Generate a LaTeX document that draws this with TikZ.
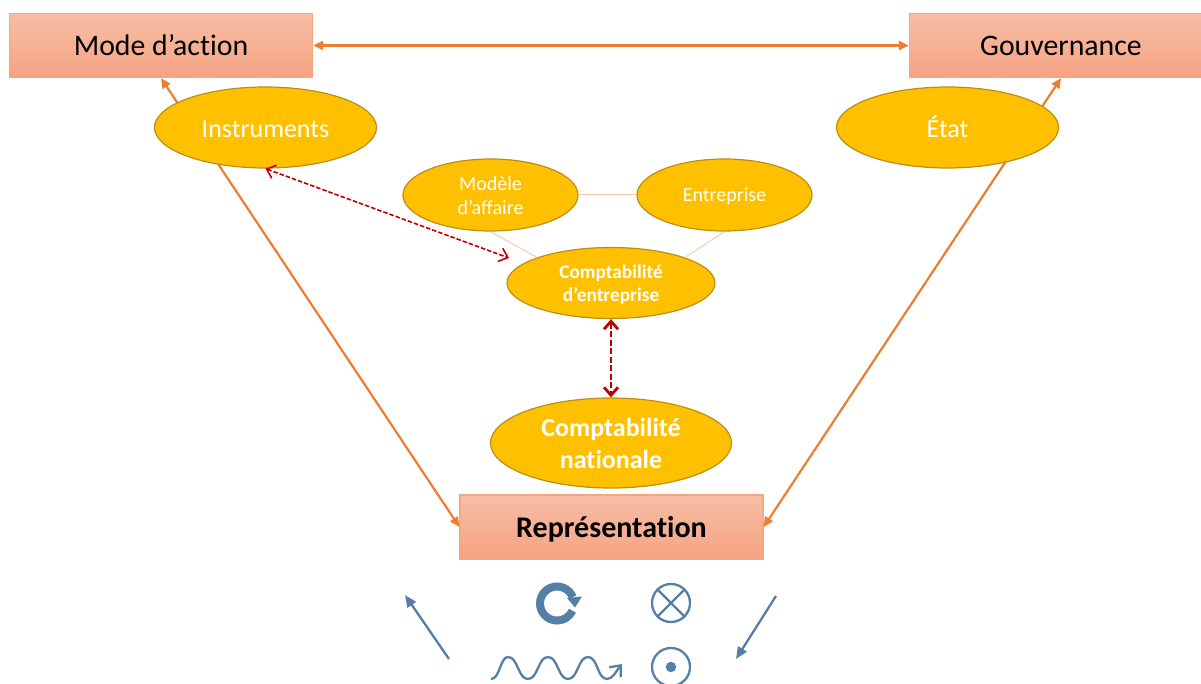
\documentclass[tikz,border=0pt]{standalone}
\usepackage{fontspec}
\setmainfont[Ligatures=NoCommon]{Carlito}
\usetikzlibrary{shapes.geometric,arrows.meta,calc}
\definecolor{org}{HTML}{ED7D31}
\definecolor{boxedge}{HTML}{F4A67E}
\definecolor{gold}{HTML}{FFC000}
\definecolor{goldedge}{HTML}{BC8F12}
\definecolor{darkr}{HTML}{C00000}
\definecolor{pale}{HTML}{F8CBAD}
\definecolor{blu}{HTML}{5480A8}
\definecolor{boxtop}{HTML}{F7BEA5}
\definecolor{boxbot}{HTML}{F6A382}
\newcommand{\pad}[1]{\rule{0pt}{#1pt}}
\tikzset{
 x=1pt,y=-1pt,
 boxn/.style={draw=boxedge,line width=1.2pt,top color=boxtop,bottom color=boxbot,minimum width=303pt,minimum height=64pt,inner sep=0pt,text=black,font=\fontsize{29.8}{32}\selectfont},
 ell/.style={ellipse,draw=goldedge,line width=1.2pt,fill=gold,inner sep=0pt,text=white,align=center},
 oline/.style={org,line width=2.2pt,{Triangle[length=10pt,width=9pt]}-{Triangle[length=10pt,width=9pt]}},
 paleline/.style={pale,line width=1pt},
 blueln/.style={blu,line width=2.3pt},
 bluearr/.style={blueln,-{Triangle[length=12pt,width=10pt]}},
 ringsym/.style={circle,draw=blu,line width=2.3pt,minimum size=38pt,inner sep=0pt},
}
\begin{document}
\begin{tikzpicture}
\useasboundingbox (0,0) rectangle (1201,684);
\clip (0,0) rectangle (1201,684);
\node[boxn] (mode) at (161,45.5) {Mode d’action};
\node[boxn] (gouv) at (1061,45.5) {\pad{21}Gouvernance};
\node[boxn,font=\fontsize{30}{32}\selectfont\bfseries] (rep) at (611.5,527) {\pad{26}Représentation};
\draw[oline] (mode.east) -- (gouv.west);
\draw[oline] (mode.south) -- (rep.west);
\draw[oline] (gouv.south) -- (rep.east);
\node[ell,minimum width=222pt,minimum height=81pt,font=\fontsize{26}{28}\selectfont] (instr) at (265.5,127.5) {\pad{20}Instruments};
\node[ell,minimum width=222pt,minimum height=81pt,font=\fontsize{26}{28}\selectfont] (etat) at (947.5,127.5) {\rule[-2pt]{0pt}{2pt}État};
\node[ell,minimum width=175pt,minimum height=72pt,font=\fontsize{20}{24}\selectfont] (modele) at (490.5,195) {\pad{16}Modèle\\d’affaire};
\node[ell,minimum width=175pt,minimum height=72pt,font=\fontsize{20}{24}\selectfont] (entr) at (724.5,195) {\pad{17}Entreprise};
\node[ell,minimum width=208pt,minimum height=71pt,font=\fontsize{19.3}{23.5}\selectfont\bfseries] (ce) at (611,283) {\pad{17}Comptabilité\\d’entreprise};
\node[ell,minimum width=241pt,minimum height=90pt,font=\fontsize{26}{32}\selectfont\bfseries] (cn) at (611,443) {Comptabilité\\nationale};
\draw[paleline] (modele) -- (entr);
\draw[paleline] (modele.south) -- (ce.north west);
\draw[paleline] (entr.south) -- (ce.north east);
\coordinate (dashend) at (509,258);
\draw[darkr,line width=1.6pt,dash pattern=on 4.5pt off 2pt,{Straight Barb[length=8pt,width=14pt]}-{Straight Barb[length=8pt,width=14pt]}] (instr.south) -- (dashend);
\draw[darkr,line width=2.8pt,dash pattern=on 6pt off 2.5pt,{Straight Barb[length=8pt,width=14pt]}-{Straight Barb[length=8pt,width=14pt]}] (ce.south) -- (cn.north);
% legend symbols
\coordinate (a1s) at (449,659); \coordinate (a1e) at (405,595);
\coordinate (a2s) at (776,596); \coordinate (a2e) at (736,659);
\draw[bluearr] (a1s) -- (a1e);
\draw[bluearr] (a2s) -- (a2e);
\coordinate (rc) at (557,603.5);
\draw[blu,line width=8pt] ($(rc)+(22:17pt)$) arc[start angle=22,end angle=335,radius=17pt];
\fill[blu] (567,598) -- (582,596.5) -- (575,607.5) -- cycle;
\node[ringsym] (cx) at (671,603) {};
\draw[blueln] (cx.north west) -- (cx.south east) (cx.north east) -- (cx.south west);
\node[ringsym] (cd) at (671,667) {};
\node[circle,fill=blu,minimum size=10.5pt,inner sep=0pt] (dot) at (cd) {};
\draw[blueln,-{Straight Barb[length=9pt,width=15pt]}] (491,679) .. controls (500,679) and (500,657) .. (508,657) .. controls (518,657) and (518,679) .. (528,679) .. controls (538,679) and (538,657) .. (548,657) .. controls (558,657) and (558,679) .. (568,679) .. controls (578,679) and (578,657) .. (588,657) .. controls (598,657) and (597,679) .. (607,679) .. controls (613,679) and (616,671) .. (622,664);
\end{tikzpicture}
\end{document}
